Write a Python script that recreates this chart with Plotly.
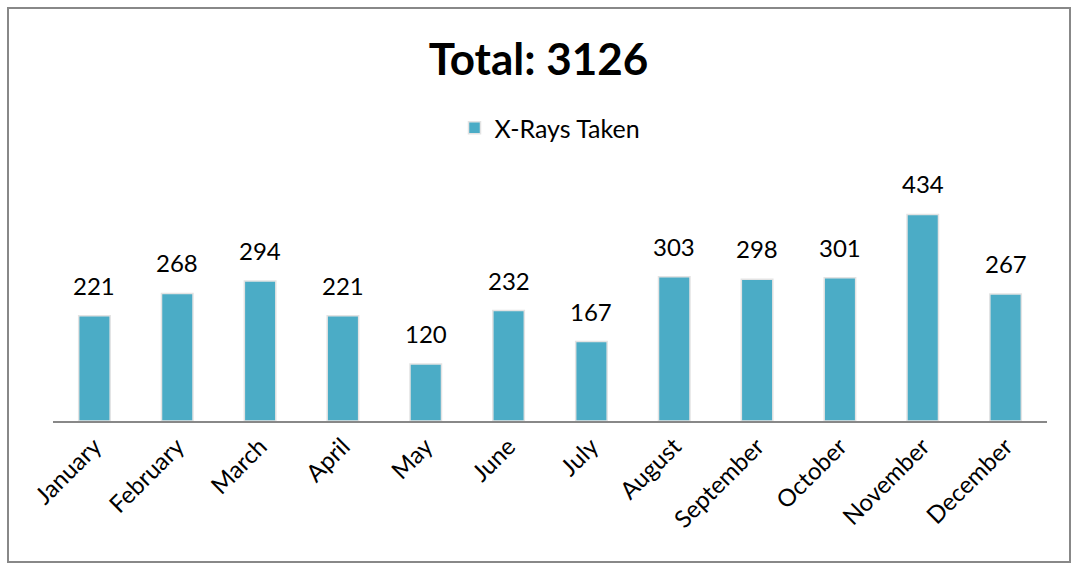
import plotly.graph_objects as go

months = ["January", "February", "March", "April", "May", "June", "July",
          "August", "September", "October", "November", "December"]
xrays = [221, 268, 294, 221, 120, 232, 167, 303, 298, 301, 434, 267]

W, H = 1077, 567
L, R, T, B = 53, 30, 183, 146
pw, ph = W - L - R, H - T - B
FONT = "Lato, Open Sans, sans-serif"

fig = go.Figure()
fig.add_trace(go.Bar(
    x=months, y=xrays, name="X-Rays Taken",
    marker=dict(color="#4BACC6", line=dict(color="#e3e3e3", width=1.5)),
))

# value labels sit a little above each bar
for m, v in zip(months, xrays):
    fig.add_annotation(x=m, y=v, text=str(v), showarrow=False,
                       yanchor="bottom", yshift=14,
                       font=dict(family=FONT, size=24, color="#000000"))

# outer chart border
fig.add_shape(
    type="rect", xref="paper", yref="paper",
    x0=(8 - L) / pw, x1=(1070 - L) / pw,
    y0=(H - B - 562) / ph, y1=(H - B - 8) / ph,
    line=dict(color="#888888", width=2), layer="below",
)

fig.update_layout(
    width=W, height=H,
    margin=dict(l=L, r=R, t=T, b=B),
    paper_bgcolor="white", plot_bgcolor="white",
    bargap=0.62,
    title=dict(text="<b>Total: 3126</b>", x=0.5, xanchor="center",
               y=1 - 60 / H, yanchor="middle",
               font=dict(family=FONT, size=44, color="#000000")),
    showlegend=True,
    legend=dict(orientation="h", x=0.5, xanchor="center",
                y=(H - B - 128) / ph, yanchor="middle",
                itemwidth=30,
                font=dict(family=FONT, size=25, color="#000000")),
    font=dict(family=FONT),
)
fig.update_xaxes(showline=True, linecolor="#888888", linewidth=2,
                 tickangle=-45, ticks="",
                 tickfont=dict(family=FONT, size=24, color="#000000"))
fig.update_yaxes(range=[0, 500], visible=False, showgrid=False)

fig.write_html("out.html", config={"displayModeBar": False},
               post_script="document.body.style.margin='0';")
